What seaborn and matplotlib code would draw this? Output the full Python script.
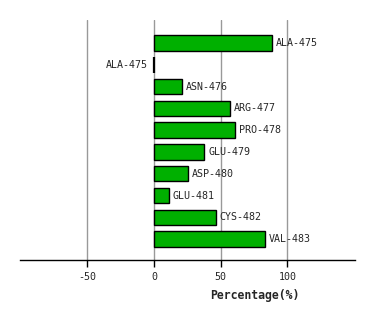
import matplotlib
matplotlib.use("Agg")
import matplotlib.pyplot as plt
import seaborn as sns
import pandas as pd

residues = ["ALA-475", "ALA-475", "ASN-476", "ARG-477", "PRO-478",
            "GLU-479", "ASP-480", "GLU-481", "CYS-482", "VAL-483"]
percentages = [88.3, 0.0, 20.8, 56.8, 60.5, 37.8, 25.3, 11.0, 46.3, 83.0]
x_ticks = [-50, 0, 50, 100]
x_label = "Percentage(%)"

df = pd.DataFrame({"pos": [str(i) for i in range(len(residues))],
                   "residue": residues, "pct": percentages})

sns.set_style("white")
plt.rcParams["font.family"] = ["DejaVu Sans Mono"]

fig = plt.figure(figsize=(3.74, 3.2), dpi=100)
W, H = 374, 320
ax = fig.add_axes([20 / W, 1 - 260 / H, (355 - 20) / W, 240 / H])

sns.barplot(data=df, x="pct", y="pos", orient="h", color="#00b000",
            saturation=1, width=0.71, edgecolor="black", linewidth=1.0,
            ax=ax, zorder=3)

for p, v in zip(ax.patches, percentages):
    if v == 0:
        p.set_linewidth(1.6)

ax.set_xlim(-100.5, 150.7)
ax.set_ylim(9.96, -1.055)
ax.set_xticks(x_ticks)
ax.set_xticklabels([str(t) for t in x_ticks], fontsize=7.2)
ax.set_yticks([])
ax.set_ylabel("")
ax.set_xlabel("")
for t in x_ticks:
    ax.axvline(t, color="#999999", linewidth=1.0, zorder=1)

for s in ["top", "right", "left"]:
    ax.spines[s].set_visible(False)
ax.spines["bottom"].set_color("black")
ax.spines["bottom"].set_linewidth(1.0)
ax.tick_params(axis="x", direction="out", length=5, width=1, color="black",
               pad=4, bottom=True)

for i, (name, v) in enumerate(zip(residues, percentages)):
    if v > 0:
        ax.text(v + 3, i, name, va="center", ha="left", fontsize=7.2)
    else:
        ax.text(v - 5, i, name, va="center", ha="right", fontsize=7.2)

fig.text(254.5 / W, 1 - 295 / H, x_label, ha="center", va="center",
         fontsize=8.3, fontweight="bold")

fig.savefig("out.png", dpi=100)
